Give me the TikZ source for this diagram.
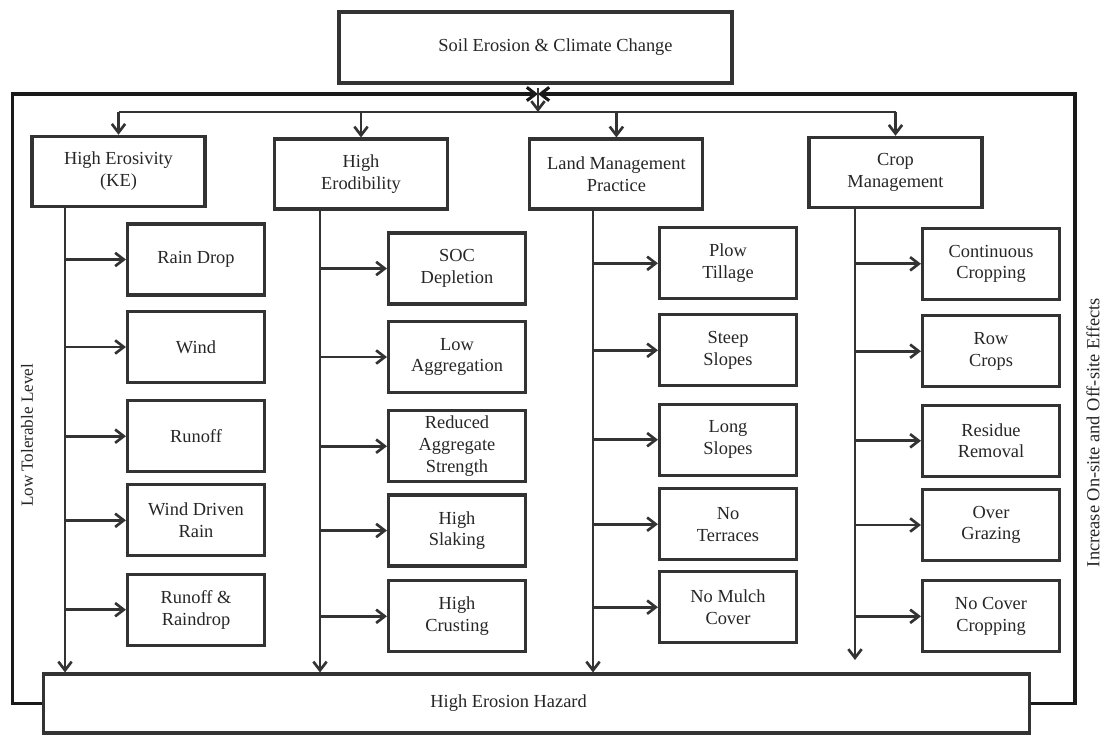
\documentclass[tikz,border=0pt]{standalone}
\usepackage{fontspec}
\setmainfont{Liberation Serif}
\usetikzlibrary{arrows.meta}
\begin{document}
\begin{tikzpicture}[x=0.75pt,y=-0.75pt,
  lc/.style={draw=black!80, line width=2pt},
  frame/.style={draw=black!90, line width=2.3pt},
  tip/.style={-{Straight Barb[length=6.5pt,width=10pt]}},
  arr/.style={lc, tip},
  box/.style={draw=black!80, line width=2.3pt, align=center, inner sep=0pt, text=black!85,
    font=\fontsize{13.8}{16.3}\selectfont},
  subbox/.style={box, minimum width=102.75pt, minimum height=53.25pt},
  catbox/.style={box, minimum width=129.75pt, minimum height=52.5pt},
  side/.style={rotate=90, text=black!85, inner sep=0pt}
]
\useasboundingbox (0,0) rectangle (1106,735);

% title and bottom
\node[box, minimum width=294.75pt, minimum height=53.25pt] (title) at (535.5,47.5) {\hspace*{30pt}Soil Erosion \& Climate Change};
\node[box, minimum width=739.5pt, minimum height=44.25pt] (heh) at (536.6,703.5) {High Erosion Hazard\hspace*{42pt}};

% category boxes
\node[catbox] (ero)  at (118.5,171.3) {High Erosivity\\(KE)};
\node[catbox] (erod) at (361,174) {High\\Erodibility};
\node[catbox] (lmp)  at (616.4,174) {Land Management\\Practice};
\node[catbox] (crop) at (895.5,172.3) {Crop\\Management};

% column 1
\node[subbox] (rd)   at (196,259.5) {Rain Drop};
\node[subbox] (wind) at (196,347) {Wind};
\node[subbox] (ro)   at (196,436.2) {Runoff};
\node[subbox] (wdr)  at (196,520.3) {Wind Driven\\Rain};
\node[subbox] (rr)   at (196,609.7) {Runoff \&\\Raindrop};
% column 2
\node[subbox] (soc)  at (457,268.5) {SOC\\Depletion};
\node[subbox] (lagg) at (457,357) {Low\\Aggregation};
\node[subbox] (ras)  at (457,446.2) {Reduced\\Aggregate\\Strength};
\node[subbox] (slak) at (457,530.5) {High\\Slaking};
\node[subbox] (crus) at (457,616.3) {High\\Crusting};
% column 3
\node[subbox] (plow) at (728,263.3) {Plow\\Tillage};
\node[subbox] (stp)  at (728,350.3) {Steep\\Slopes};
\node[subbox] (lng)  at (728,439.7) {Long\\Slopes};
\node[subbox] (nter) at (728,524.2) {No\\Terraces};
\node[subbox] (nmc)  at (728,607.2) {No Mulch\\Cover};
% column 4
\node[subbox] (cont) at (991,263.8) {Continuous\\Cropping};
\node[subbox] (row)  at (991,351.2) {Row\\Crops};
\node[subbox] (res)  at (991,440.8) {Residue\\Removal};
\node[subbox] (ovg)  at (991,525) {Over\\Grazing};
\node[subbox] (ncc)  at (991,616.3) {No Cover\\Cropping};

% side texts
\node[side, font=\fontsize{12.8}{15}\selectfont] (ltl) at (27,435.5) {Low Tolerable Level};
\node[side, font=\fontsize{13.8}{16}\selectfont] (eff) at (1093,432.5) {Increase On-site and Off-site Effects};

% coordinates
\coordinate (jn) at (538,94);
\coordinate (jtop) at (538,88);
\coordinate (bus) at (538,112);
\coordinate (fl) at (12.5,94);
\coordinate (fr) at (1075,94);
\coordinate (c1) at (65,0);
\coordinate (c2) at (320,0);
\coordinate (c3) at (593,0);
\coordinate (c4end) at (855,660);

% outer frame
\draw[frame, tip] (heh.west) -| (fl) -- (jn);
\draw[frame, tip] (heh.east) -| (fr) -- (jn);
\draw[arr] (jtop) -- (bus);

% bus and down arrows
\draw[lc] (ero.north |- bus) -- (crop.north |- bus);
\foreach \n in {ero,erod,lmp,crop}
  \draw[arr] (\n.north |- bus) -- (\n.north);

% column trunks
\draw[arr] (ero.south -| c1) -- (heh.north -| c1);
\draw[arr] (erod.south -| c2) -- (heh.north -| c2);
\draw[arr] (lmp.south -| c3) -- (heh.north -| c3);
\draw[arr] (crop.south -| c4end) -- (c4end);

% branches
\foreach \n in {rd,wind,ro,wdr,rr}
  \draw[arr] (\n.west -| c1) -- (\n.west);
\foreach \n in {soc,lagg,ras,slak,crus}
  \draw[arr] (\n.west -| c2) -- (\n.west);
\foreach \n in {plow,stp,lng,nter,nmc}
  \draw[arr] (\n.west -| c3) -- (\n.west);
\foreach \n in {cont,row,res,ovg,ncc}
  \draw[arr] (\n.west -| c4end) -- (\n.west);
\end{tikzpicture}
\end{document}
